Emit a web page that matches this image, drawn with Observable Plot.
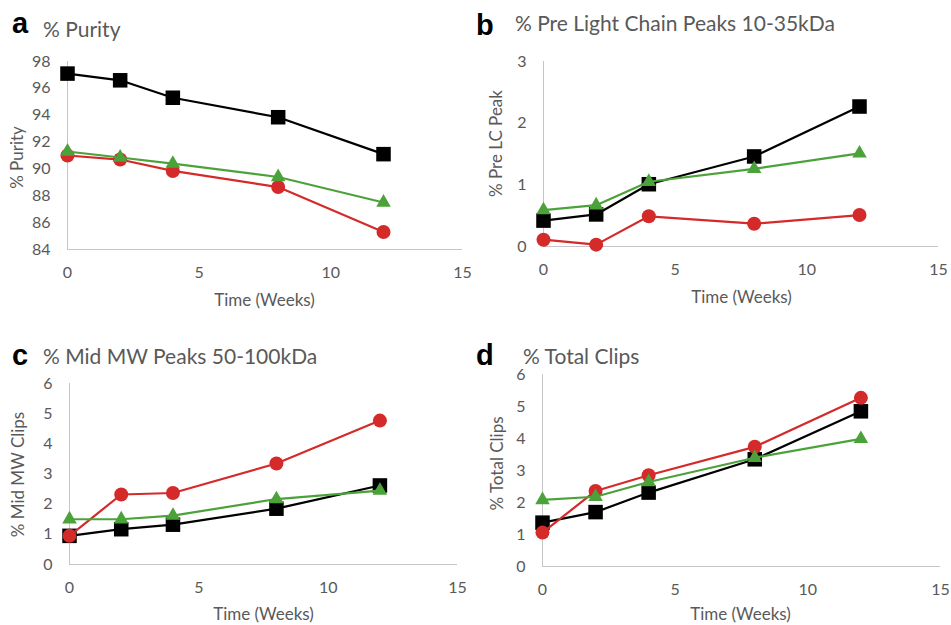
<!DOCTYPE html>
<html><head><meta charset="utf-8">
<script src="https://cdn.jsdelivr.net/npm/d3@7"></script>
<script src="https://cdn.jsdelivr.net/npm/@observablehq/plot@0.6"></script>
<style>
body{margin:0;background:#fff;}
#wrap{position:relative;width:951px;height:625px;overflow:hidden;background:#fff;}
.panel{position:absolute;}
#overlay{position:absolute;left:0;top:0;pointer-events:none;}
</style>
</head><body><div id="wrap"></div>
<script>
// ---- data ----
const weeks = [0, 2, 4, 8, 12];
const xTicks = [0, 5, 10, 15];
const seriesNames = ["Black", "Red", "Green"];
const seriesColors = ["#000000", "#d42a2a", "#4ca23a"];
const seriesSymbols = ["square", "circle", "triangle"];

// a: % Purity
const purityBlack = [97.1, 96.6, 95.3, 93.85, 91.1];
const purityRed   = [91.0, 90.7, 89.85, 88.65, 85.3];
const purityGreen = [91.3, 90.85, 90.4, 89.4, 87.5];
const purityTicks = [84, 86, 88, 90, 92, 94, 96, 98];

// b: % Pre Light Chain Peaks
const preLCBlack = [0.42, 0.52, 1.01, 1.46, 2.27];
const preLCRed   = [0.11, 0.03, 0.49, 0.37, 0.51];
const preLCGreen = [0.59, 0.67, 1.05, 1.26, 1.51];
const preLCTicks = [0, 1, 2, 3];

// c: % Mid MW Peaks
const midMWBlack = [0.95, 1.17, 1.32, 1.85, 2.62];
const midMWRed   = [0.95, 2.32, 2.37, 3.35, 4.77];
const midMWGreen = [1.5, 1.5, 1.62, 2.17, 2.45];
const midMWTicks = [0, 1, 2, 3, 4, 5, 6];

// d: % Total Clips
const totalBlack = [1.37, 1.70, 2.31, 3.35, 4.85];
const totalRed   = [1.06, 2.36, 2.85, 3.74, 5.27];
const totalGreen = [2.08, 2.18, 2.64, 3.40, 3.99];
const totalTicks = [0, 1, 2, 3, 4, 5, 6];

const panelLetters = ["a", "b", "c", "d"];
const panelTitles = ["% Purity", "% Pre Light Chain Peaks 10-35kDa", "% Mid MW Peaks 50-100kDa", "% Total Clips"];
const yLabels = ["% Purity", "% Pre LC Peak", "% Mid MW Clips", "% Total Clips"];
const xLabel = "Time (Weeks)";

// ---- layout ----
const panels = [
  {left:0, top:0, w:475, h:312, ml:67, mr:13, mt:61, mb:63, ticks:purityTicks, vals:[purityBlack, purityRed, purityGreen], yl:[17,157], xl:[264,300]},
  {left:475, top:0, w:476, h:312, ml:68, mr:13, mt:61, mb:66, ticks:preLCTicks, vals:[preLCBlack, preLCRed, preLCGreen], yl:[21,143], xl:[266,297]},
  {left:0, top:312, w:475, h:313, ml:69, mr:18, mt:71, mb:61, ticks:midMWTicks, vals:[midMWBlack, midMWRed, midMWGreen], yl:[18,162], xl:[263,302]},
  {left:475, top:312, w:476, h:313, ml:67, mr:11, mt:62, mb:59, ticks:totalTicks, vals:[totalBlack, totalRed, totalGreen], yl:[22,151], xl:[265,302]}
];
const symbolR = {square: 8.2, circle: 7, triangle: 5.4};
const gray = "#595959", axisGray = "#c6c6c6", font = "Lato, 'Open Sans', sans-serif";

const wrap = document.getElementById("wrap");

panels.forEach((p, k) => {
  const yDomain = [p.ticks[0], p.ticks[p.ticks.length - 1]];
  const marks = [
    Plot.ruleY([yDomain[0]], {stroke: axisGray, strokeWidth: 1}),
    Plot.ruleX([0], {stroke: axisGray, strokeWidth: 1}),
    Plot.axisX({ticks: xTicks, tickFormat: d => String(d), tickSize: 0, tickPadding: 17, fontSize: 16, label: null}),
    Plot.axisY({ticks: p.ticks, tickFormat: d => String(d), tickSize: 0, tickPadding: 17, fontSize: 16, label: null}),
    Plot.text([yLabels[k]], {frameAnchor: "top-left", dx: p.yl[0] - p.ml, dy: p.yl[1] - p.mt, rotate: -90, fontSize: 17, fill: gray, textAnchor: "middle", lineAnchor: "middle"}),
    Plot.text([xLabel], {frameAnchor: "top-left", dx: p.xl[0] - p.ml, dy: p.xl[1] - p.mt, fontSize: 17, fill: gray, textAnchor: "middle", lineAnchor: "middle"})
  ];
  p.vals.forEach((arr, s) => {
    const rows = weeks.map((w, i) => ({week: w, value: arr[i], series: seriesNames[s]}));
    marks.push(Plot.line(rows, {x: "week", y: "value", stroke: seriesColors[s], strokeWidth: 2.2}));
    marks.push(Plot.dot(rows, {x: "week", y: "value", symbol: seriesSymbols[s], r: symbolR[seriesSymbols[s]], fill: seriesColors[s], stroke: "none"}));
  });
  const chart = Plot.plot({
    width: p.w, height: p.h,
    marginLeft: p.ml, marginRight: p.mr, marginTop: p.mt, marginBottom: p.mb,
    x: {domain: [0, 15], label: null},
    y: {domain: yDomain, label: null},
    style: {color: gray, fontFamily: font, background: "transparent", overflow: "visible"},
    marks
  });
  const div = document.createElement("div");
  div.className = "panel";
  div.style.left = p.left + "px";
  div.style.top = p.top + "px";
  div.appendChild(chart);
  wrap.appendChild(div);
});

// panel letters and titles
const letterPos = [[12, 33], [476, 35], [12, 365], [476, 365]];
const titlePos = [[43, 37], [515, 31], [43, 364], [523, 364]];
const ov = d3.select(wrap).append("svg").attr("id", "overlay").attr("width", 951).attr("height", 625);
panelLetters.forEach((l, i) => {
  ov.append("text").attr("x", letterPos[i][0]).attr("y", letterPos[i][1])
    .attr("font-family", "'Liberation Sans', Arial, sans-serif").attr("font-weight", "bold")
    .attr("font-size", 29).attr("fill", "#000").text(l);
  ov.append("text").attr("x", titlePos[i][0]).attr("y", titlePos[i][1])
    .attr("font-family", font).attr("font-size", 21).attr("fill", gray).text(panelTitles[i]);
});
</script>
</body></html>
